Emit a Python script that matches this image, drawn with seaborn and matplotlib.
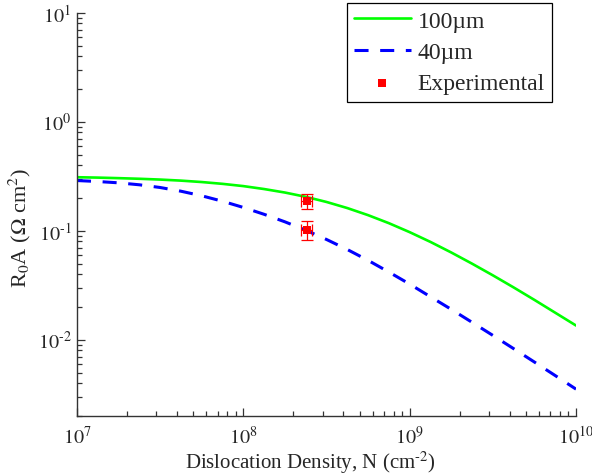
import numpy as np
import pandas as pd
import seaborn as sns
import matplotlib.pyplot as plt
from matplotlib.ticker import FuncFormatter

# values (log-log), every 1/8 decade
density = [1e7, 1.3335e7, 1.7783e7, 2.3714e7, 3.1623e7, 4.2170e7, 5.6234e7, 7.4989e7,
           1e8, 1.3335e8, 1.7783e8, 2.3714e8, 3.1623e8, 4.2170e8, 5.6234e8, 7.4989e8,
           1e9, 1.3335e9, 1.7783e9, 2.3714e9, 3.1623e9, 4.2170e9, 5.6234e9, 7.4989e9,
           1e10]
r0a_100um = [0.310, 0.3075, 0.304, 0.300, 0.295, 0.2885, 0.280, 0.2695,
             0.257, 0.2415, 0.2243, 0.2050, 0.1838, 0.1616, 0.1391, 0.1174,
             0.0971, 0.0790, 0.0632, 0.0499, 0.0390, 0.0302, 0.0232, 0.0177,
             0.0135]
r0a_40um = [0.289, 0.2831, 0.2754, 0.2642, 0.2495, 0.2307, 0.2094, 0.1866,
            0.1637, 0.1416, 0.1208, 0.1012, 0.0832, 0.0673, 0.0535, 0.0418,
            0.0324, 0.0248, 0.0190, 0.01445, 0.01096, 0.00828, 0.00624, 0.00469,
            0.00352]

exp_density = [2.4e8, 2.4e8]
exp_r0a = [0.187, 0.102]
exp_xerr = [0.18e8, 0.18e8]
exp_yerr = [0.03, 0.02]

df = pd.DataFrame({
    'N': density * 2,
    'R0A': r0a_100um + r0a_40um,
    'thickness': ['100µm'] * len(density) + ['40µm'] * len(density),
})
df_exp = pd.DataFrame({'N': exp_density, 'R0A': exp_r0a})

sns.set_style('ticks', rc={'xtick.direction': 'in', 'ytick.direction': 'in'})
plt.rcParams['font.family'] = ['Liberation Serif', 'DejaVu Serif']
plt.rcParams['mathtext.fontset'] = 'stix'
plt.rcParams['axes.unicode_minus'] = False

fig = plt.figure(figsize=(5.92, 4.77), dpi=100)
ax = fig.add_axes([0.130, 0.126, 0.843, 0.845])

sns.lineplot(data=df[df.thickness == '100µm'], x='N', y='R0A', color='#00ff00',
             lw=1.9, label='100µm', ax=ax)
sns.lineplot(data=df[df.thickness == '40µm'], x='N', y='R0A', color='#0000ff',
             lw=2.2, label='40µm', ax=ax)
ax.lines[-1].set_dashes((4.6, 3.8))

ax.errorbar(exp_density, exp_r0a, xerr=exp_xerr, yerr=exp_yerr, fmt='none',
            ecolor='#ff0000', elinewidth=0.9, capsize=4, capthick=0.9, zorder=4)
sns.scatterplot(data=df_exp, x='N', y='R0A', marker='s', s=40, color='#ff0000',
                edgecolor='#ff0000', linewidth=0, label='Experimental', ax=ax, zorder=5)

ax.set_xscale('log')
ax.set_yscale('log')
ax.set_xlim(1e7, 1e10)
ax.set_ylim(2e-3, 10)


def pow10(v, pos):
    e = int(round(np.log10(v)))
    if e < 0:
        return '$10^{\\text{-}%d}$' % (-e)
    return '$10^{%d}$' % e


ax.xaxis.set_major_formatter(FuncFormatter(pow10))
ax.yaxis.set_major_formatter(FuncFormatter(pow10))

ax.set_xlabel('Dislocation Density, N (cm$^{\\text{-}2}$)', fontsize=15, labelpad=1)
ax.xaxis.set_label_coords(0.467, -0.08)
ax.set_ylabel('R$_0$A ($\\Omega$ cm$^2$)', fontsize=16)
ax.yaxis.set_label_coords(-0.088, 0.469)

ax.tick_params(which='major', length=6, width=0.9, labelsize=14.5, color='#333333')
ax.tick_params(which='minor', length=3.5, width=0.9, color='#333333')
ax.tick_params(axis='x', which='major', pad=7)
ax.tick_params(axis='y', which='major', pad=4)
for side in ['left', 'bottom']:
    ax.spines[side].set_linewidth(1.0)
    ax.spines[side].set_color('#333333')
sns.despine(ax=ax)

leg = ax.legend(loc='upper right', bbox_to_anchor=(552 / 592, 1 - 4 / 477),
                bbox_transform=fig.transFigure, borderaxespad=0, fontsize=17,
                frameon=True, fancybox=False, framealpha=1, edgecolor='black',
                handlelength=2.4, handletextpad=0.3, labelspacing=0.42,
                borderpad=0.3, markerscale=1.0)
leg.get_frame().set_linewidth(0.9)

fig.savefig('out.png', dpi=100)
